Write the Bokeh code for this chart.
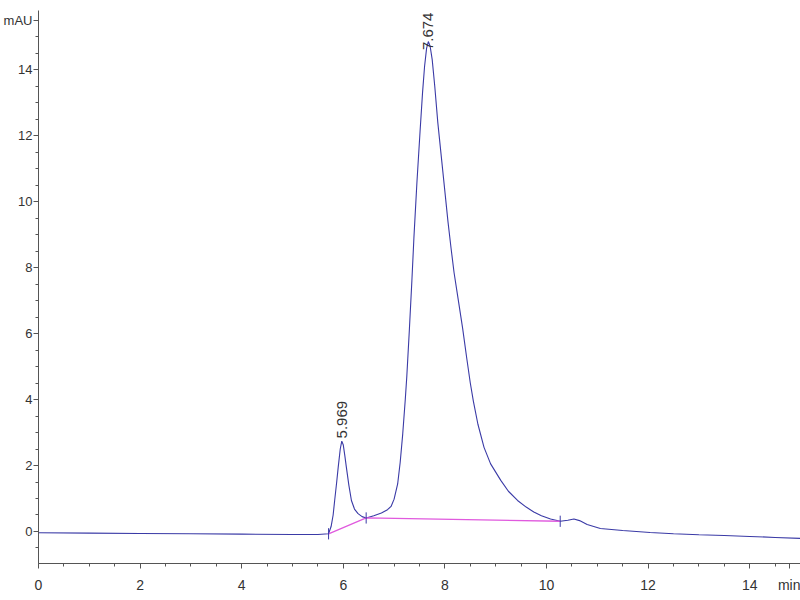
import math
from bokeh.plotting import figure
from bokeh.models import Range1d, FixedTicker
from bokeh.embed import file_html
from bokeh.resources import INLINE
from bokeh.core.properties import value

# ---- data ----
time_min = [0, 1, 2, 3, 4, 5, 5.5, 5.71, 5.76, 5.80, 5.83, 5.87, 5.90, 5.94, 5.97,
            6.00, 6.03, 6.06, 6.11, 6.16, 6.22, 6.29, 6.37, 6.45, 6.60, 6.75, 6.87,
            6.94, 7.00, 7.07, 7.12, 7.17, 7.22, 7.25, 7.30, 7.35, 7.39, 7.45, 7.51,
            7.56, 7.60, 7.64, 7.674, 7.71, 7.75, 7.80, 7.86, 7.96, 8.06, 8.12, 8.18,
            8.27, 8.35, 8.43, 8.50, 8.56, 8.65, 8.77, 8.90, 9.10, 9.25, 9.43, 9.60,
            9.75, 9.90, 10.08, 10.27, 10.42, 10.54, 10.65, 10.80, 11.06, 11.5, 12.04,
            12.5, 13.0, 13.5, 14.0, 14.5, 15.0]
signal_mau = [-0.04, -0.05, -0.06, -0.07, -0.08, -0.09, -0.09, -0.07, 0.15, 0.50, 0.94,
              1.50, 1.95, 2.50, 2.74, 2.62, 2.30, 1.95, 1.40, 0.94, 0.68, 0.54, 0.45,
              0.41, 0.48, 0.56, 0.66, 0.76, 0.98, 1.44, 2.10, 2.96, 4.00, 4.70, 6.10,
              7.60, 8.90, 10.60, 12.10, 13.30, 14.10, 14.65, 14.85, 14.70, 14.30, 13.50,
              12.40, 10.90, 9.40, 8.60, 7.85, 6.95, 6.15, 5.25, 4.50, 3.95, 3.25, 2.55,
              2.05, 1.55, 1.22, 0.94, 0.74, 0.59, 0.48, 0.38, 0.31, 0.34, 0.38, 0.33,
              0.21, 0.09, 0.03, -0.03, -0.07, -0.10, -0.12, -0.15, -0.18, -0.21]

baseline_t = [5.71, 6.45, 10.27]
baseline_v = [-0.07, 0.41, 0.31]

peak_rt = [5.969, 7.674]
peak_height = [2.74, 14.85]
peak_text = ["5.969", "7.674"]

x_major = [0, 2, 4, 6, 8, 10, 12, 14]
y_major = [0, 2, 4, 6, 8, 10, 12, 14]
x_unit, x_unit_pos = "min", 14.78
y_unit, y_unit_pos = "mAU", 15.5

# ---- styling ----
BLUE = "#3a3aa6"
PINK = "#e05ade"
AX = "#555555"
TXT = "#333333"
FONT = "Liberation Sans"

XMAX = 15.0
YMIN, YMAX = -0.97, 15.79

p = figure(width=800, height=600, output_backend="svg", toolbar_location=None,
           x_range=Range1d(0, XMAX), y_range=Range1d(YMIN, YMAX),
           min_border_left=36, min_border_right=0, min_border_top=10,
           min_border_bottom=37, background_fill_color="white")
p.grid.visible = False
p.outline_line_color = None

p.line(time_min, signal_mau, color=BLUE, line_width=1.1)
p.line(baseline_t, baseline_v, color=PINK, line_width=1.3)
p.segment(x0=baseline_t, x1=baseline_t,
          y0=[v - 0.17 for v in baseline_v], y1=[v + 0.17 for v in baseline_v],
          color=BLUE, line_width=1)

label_y = [min(h + 0.08, YMAX - 1.2) for h in peak_height]
p.text(x=peak_rt, y=label_y, text=peak_text, angle=math.pi / 2,
       text_align="left", text_baseline="middle",
       text_font=value(FONT), text_font_size="15px", text_color=TXT)

minor = [i * 0.5 for i in range(-2, 32)]
for ax, ticks, unit, upos in ((p.xaxis[0], x_major, x_unit, x_unit_pos),
                              (p.yaxis[0], y_major, y_unit, y_unit_pos)):
    ax.ticker = FixedTicker(ticks=ticks + [upos], minor_ticks=minor)
    ax.major_label_overrides = {upos: unit}
    ax.axis_line_color = AX
    ax.major_tick_line_color = AX
    ax.minor_tick_line_color = AX
    ax.major_tick_out = 5
    ax.major_tick_in = 0
    ax.minor_tick_out = 3
    ax.minor_tick_in = 0
    ax.major_label_text_font = FONT
    ax.major_label_text_color = TXT
p.xaxis.major_label_text_font_size = "14px"
p.yaxis.major_label_text_font_size = "13px"
p.xaxis.major_label_standoff = 8
p.yaxis.major_label_standoff = 1

open("out.html", "w").write(file_html(p, INLINE))
